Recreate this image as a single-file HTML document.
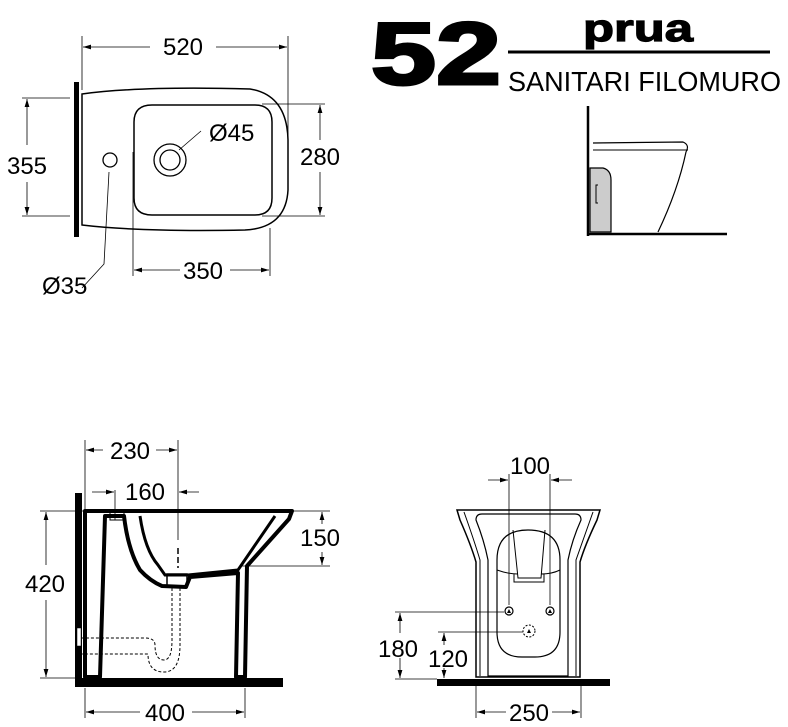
<!DOCTYPE html>
<html><head><meta charset="utf-8"><style>
html,body{margin:0;padding:0;background:#fff;}
svg{display:block;font-family:"Liberation Sans",sans-serif;}
</style></head><body>
<svg width="788" height="727" viewBox="0 0 788 727" xmlns="http://www.w3.org/2000/svg">
<defs>
<marker id="a" viewBox="0 0 10 6" refX="10" refY="3" markerWidth="10" markerHeight="6" orient="auto-start-reverse"><path d="M0,0 L10,3 L0,6 z" fill="#000"/></marker>
</defs>
<g fill="none" stroke="#000">
<rect x="74" y="82" width="5" height="155" fill="#000" stroke="none"/>
<path d="M82,94 Q140,86 250,89 Q287,95 288,140 L288,190 Q286,228 245,230 Q140,232 82,225 Z" stroke-width="1.5"/>
<path d="M152,105 L255,105 Q272,105 272,122 L272,198 Q272,215 255,215 L152,215 Q134,215 134,198 L134,122 Q134,105 152,105 Z" stroke-width="1.5"/>
<circle cx="170" cy="160" r="16" stroke-width="1.3"/>
<circle cx="170" cy="160" r="10" stroke-width="1.3"/>
<circle cx="110" cy="160" r="7" stroke-width="1.3"/>
<g stroke-width="0.8">
<line x1="82" y1="36" x2="82" y2="90"/><line x1="288" y1="36" x2="288" y2="150"/>
<line x1="83" y1="47" x2="150" y2="47" marker-start="url(#a)"/><line x1="216" y1="47" x2="287" y2="47" marker-end="url(#a)"/>
<line x1="22" y1="98" x2="70" y2="98"/><line x1="22" y1="216" x2="70" y2="216"/>
<line x1="27" y1="99" x2="27" y2="145" marker-start="url(#a)"/><line x1="27" y1="182" x2="27" y2="215" marker-end="url(#a)"/>
<line x1="262" y1="104" x2="325" y2="104"/><line x1="262" y1="216" x2="325" y2="216"/>
<line x1="320" y1="105" x2="320" y2="140" marker-start="url(#a)"/><line x1="320" y1="172" x2="320" y2="215" marker-end="url(#a)"/>
<line x1="133" y1="152" x2="133" y2="276"/><line x1="270" y1="228" x2="270" y2="276"/>
<line x1="134" y1="270" x2="180" y2="270" marker-start="url(#a)"/><line x1="230" y1="270" x2="269" y2="270" marker-end="url(#a)"/>
<path d="M109,172 L104,264 L82,288" /><line x1="179" y1="150" x2="201" y2="131"/>
</g>
<line x1="588" y1="106" x2="588" y2="236" stroke-width="2.5"/>
<line x1="587" y1="234" x2="727" y2="234" stroke-width="2.5"/>
<path d="M593,143 L683,142 Q690,145 686,152 Q678,190 658,232" stroke-width="1.2"/>
<line x1="593" y1="150" x2="688" y2="150" stroke-width="1"/>
<path d="M590,168 L603,168 Q611,170 611,180 L611,232 L590,232 Z" fill="#ccc" stroke-width="1.2"/>
<path d="M598,185 L596,185 L596,203 L598,203" stroke-width="1"/>
<rect x="75" y="493" width="7" height="194" fill="#000" stroke="none"/>
<rect x="75" y="678" width="208" height="9" fill="#000" stroke="none"/>
<path d="M85,511 L292,511 L289,519 L247,566 L245,677 L236,677 L238,573 L190,577 L186,587 L162,586 Q150,581 140,570 Q128,550 124,516 L105,516 L100,677 L85,677 Z" stroke-width="4" stroke-linejoin="round"/>
<path d="M140,516 Q145,550 158,565 L165,575 L188,575 L238,570 L275,516" stroke-width="3"/>
<rect x="110" y="511" width="14" height="9" stroke-width="1"/>
<rect x="167" y="574" width="20" height="13" stroke-width="1.5"/>
<g stroke-width="1" stroke-dasharray="3,2">
<path d="M172,588 L172,640 Q172,660 164,660 Q155,660 155,645 Q155,638 145,638 L82,638"/>
<path d="M180,588 L180,645 Q180,672 164,672 Q148,672 148,654 L82,654"/>
</g>
<rect x="77" y="628" width="4" height="18" fill="#fff" stroke-width="0.5"/>
<g stroke-width="0.8">
<line x1="178" y1="440" x2="178" y2="540"/><line x1="178" y1="548" x2="178" y2="568" stroke-dasharray="6,3" stroke-width="1.5"/>
<line x1="85" y1="440" x2="85" y2="510"/>
<line x1="86" y1="450" x2="103" y2="450" marker-start="url(#a)"/><line x1="156" y1="450" x2="177" y2="450" marker-end="url(#a)"/>
<line x1="115" y1="490" x2="115" y2="520"/>
<line x1="92" y1="492" x2="114" y2="492" marker-end="url(#a)"/><line x1="199" y1="492" x2="179" y2="492" marker-end="url(#a)"/>
<line x1="40" y1="511" x2="330" y2="511"/><line x1="240" y1="566" x2="330" y2="566"/>
<line x1="322" y1="512" x2="322" y2="524" marker-start="url(#a)"/><line x1="322" y1="552" x2="322" y2="565" marker-end="url(#a)"/>
<line x1="40" y1="678" x2="75" y2="678"/>
<line x1="46" y1="512" x2="46" y2="565" marker-start="url(#a)"/><line x1="46" y1="600" x2="46" y2="677" marker-end="url(#a)"/>
<line x1="85" y1="688" x2="85" y2="718"/><line x1="245" y1="688" x2="245" y2="718"/>
<line x1="86" y1="712" x2="140" y2="712" marker-start="url(#a)"/><line x1="192" y1="712" x2="244" y2="712" marker-end="url(#a)"/>
</g>
<rect x="437" y="679" width="173" height="7" fill="#000" stroke="none"/>
<path d="M457,510 L600,510 L597,520 Q585,545 580,562 L580,677 L476,677 L476,562 Q471,545 460,520 Z" stroke-width="1.5"/>
<path d="M464,512 Q474,540 480,560 L480,676 M593,512 Q583,540 576,560 L576,676" stroke-width="1"/>
<path d="M476,520 Q476,514 482,514 L575,514 Q581,514 581,520 Q572,540 568,560 L568,676 L488,676 L488,560 Q484,540 476,520 Z" stroke-width="1.2"/>
<path d="M497,560 Q497,530 528,530 Q560,530 560,560 L560,632 Q560,657 535,657 L522,657 Q497,657 497,632 Z" stroke-width="1.2"/>
<path d="M513,530 L518,578 L541,578 L545,530 M497,570 Q508,574 518,574 M541,574 Q552,574 560,570 M514,574 L514,582 L544,582 L544,574" stroke-width="1"/>
<circle cx="509" cy="611" r="4" stroke-width="1.2"/><circle cx="550" cy="611" r="4" stroke-width="1.2"/>
<circle cx="529" cy="631" r="6" stroke-width="1" stroke-dasharray="2,1.5"/>
<path d="M507,613 L509,609 L511,613 Z M548,613 L550,609 L552,613 Z M527,633 L529,629 L531,633 Z" fill="#000" stroke="none"/>
<g stroke-width="0.8">
<line x1="509" y1="474" x2="509" y2="605"/><line x1="550" y1="474" x2="550" y2="605"/>
<line x1="488" y1="480" x2="508" y2="480" marker-end="url(#a)"/><line x1="572" y1="480" x2="551" y2="480" marker-end="url(#a)"/>
<line x1="395" y1="612" x2="504" y2="612"/><line x1="438" y1="632" x2="523" y2="632"/>
<line x1="395" y1="679" x2="437" y2="679"/>
<line x1="400" y1="613" x2="400" y2="633" marker-start="url(#a)"/><line x1="400" y1="658" x2="400" y2="678" marker-end="url(#a)"/>
<line x1="444" y1="633" x2="444" y2="645" marker-start="url(#a)"/><line x1="444" y1="668" x2="444" y2="678" marker-end="url(#a)"/>
<line x1="476" y1="686" x2="476" y2="718"/><line x1="581" y1="686" x2="581" y2="718"/>
<line x1="477" y1="712" x2="506" y2="712" marker-start="url(#a)"/><line x1="552" y1="712" x2="580" y2="712" marker-end="url(#a)"/>
</g>
<line x1="508" y1="52" x2="770" y2="52" stroke-width="3"/>
</g>
<g fill="#000" font-size="24">
<text x="183" y="55" text-anchor="middle">520</text>
<text x="27" y="174" text-anchor="middle">355</text>
<text x="320" y="165" text-anchor="middle">280</text>
<text x="203" y="279" text-anchor="middle">350</text>
<text x="42" y="294">Ø35</text>
<text x="209" y="141">Ø45</text>
<text x="130" y="459" text-anchor="middle">230</text>
<text x="145" y="500" text-anchor="middle">160</text>
<text x="320" y="546" text-anchor="middle">150</text>
<text x="45" y="592" text-anchor="middle">420</text>
<text x="165" y="721" text-anchor="middle">400</text>
<text x="530" y="474" text-anchor="middle">100</text>
<text x="398" y="657" text-anchor="middle">180</text>
<text x="448" y="667" text-anchor="middle">120</text>
<text x="529" y="721" text-anchor="middle">250</text>
<text x="371" y="84" font-size="88" font-weight="bold" textLength="130" lengthAdjust="spacingAndGlyphs" stroke="#000" stroke-width="3">52</text>
<text x="583" y="41" font-size="38" font-weight="bold" textLength="110" lengthAdjust="spacingAndGlyphs" stroke="#000" stroke-width="1.2">prua</text>
<text x="508" y="91" font-size="28" textLength="273" lengthAdjust="spacingAndGlyphs">SANITARI FILOMURO</text>
</g>
</svg>
</body></html>
